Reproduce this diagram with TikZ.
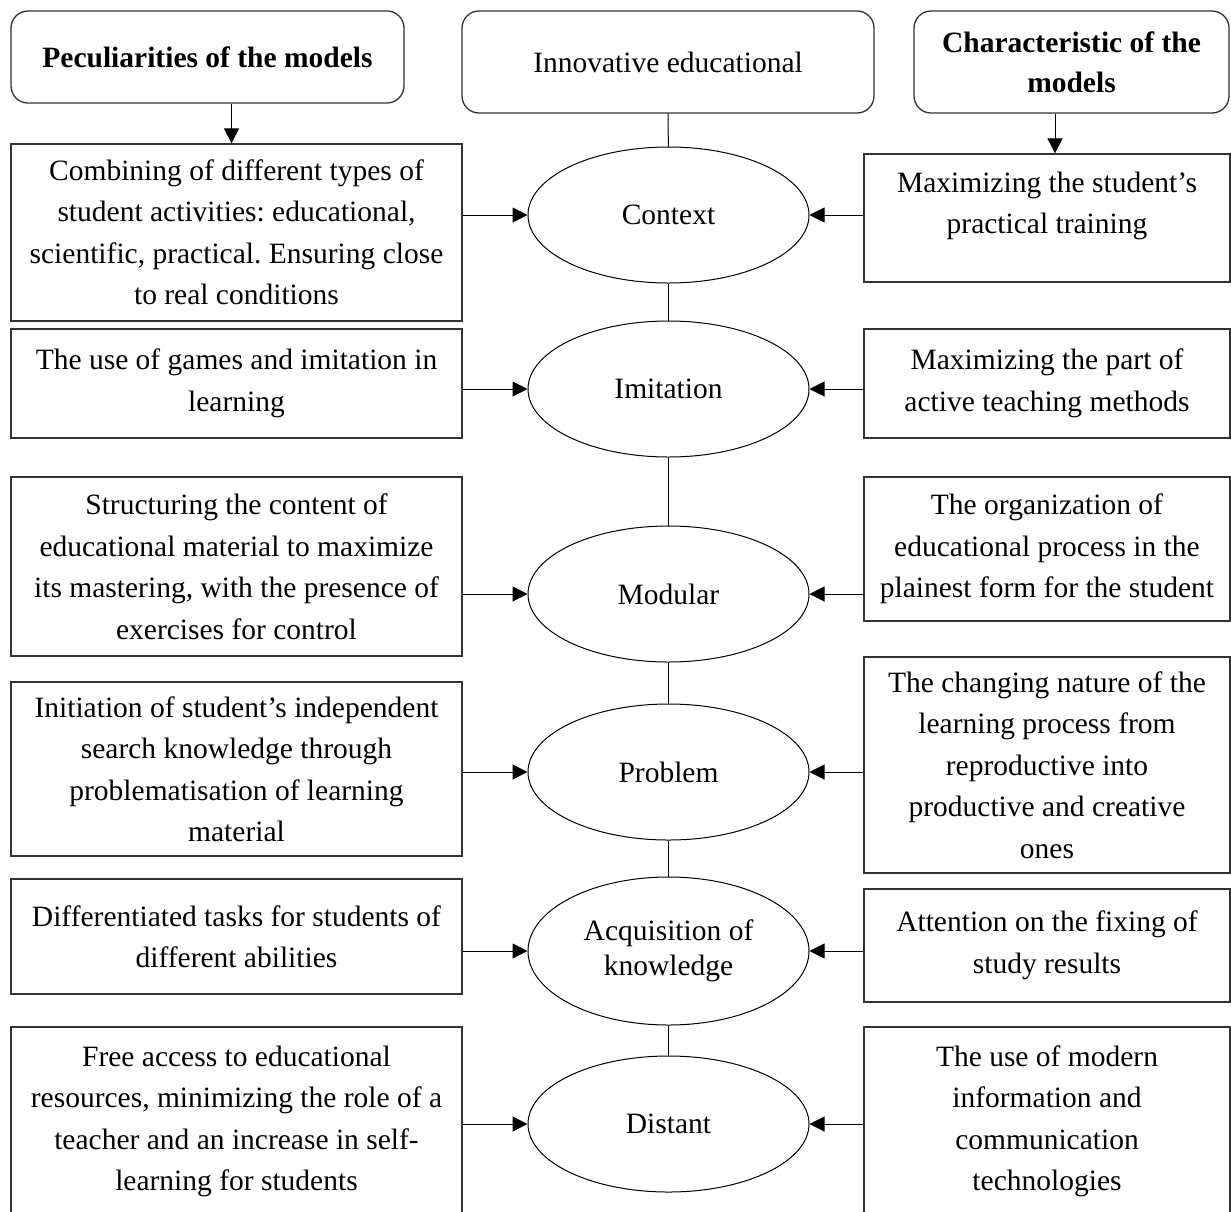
\documentclass[tikz,border=0pt]{standalone}
\usepackage{fontspec}
\setmainfont{Liberation Serif}
\usepackage{tikz}
\usetikzlibrary{arrows.meta, positioning, calc, shapes}
\definecolor{boxgray}{RGB}{51, 51, 51}
\frenchspacing

\tikzset{
  txt/.style={font=\fontsize{29.5}{41.5}\selectfont, align=center, inner sep=0pt},
  roundbox/.style={txt, draw=boxgray, line width=1.3pt, rounded corners=17pt},
  boldtxt/.style={font=\fontsize{29.5}{40}\selectfont\bfseries},
  featbox/.style={txt, draw=boxgray, line width=1.3pt},
  model/.style={txt, ellipse, draw, line width=1pt, minimum width=281pt, minimum height=136pt},
  link/.style={line width=1pt},
  arr/.style={link, -{Triangle[length=15pt, width=15pt]}}
}

\begin{document}
\begin{tikzpicture}[x=1pt, y=-1pt]
        \useasboundingbox (0,0) rectangle (1231,1211);

        % Headings
        \node[roundbox, boldtxt, minimum width=393pt, minimum height=92pt] (pec) at (207.5,57) {Peculiarities of the models};
        \node[roundbox, minimum width=412pt, minimum height=102pt] (inno) at (668,62) {Innovative educational};
        \node[roundbox, boldtxt, minimum width=315pt, minimum height=102pt] (char) at (1071.5,62) {Characteristic of the\\models};

        % Models
        \node[model] (ctx) at (668.5,215) {Context};
        \node[model] (imi) at (668.5,389) {Imitation};
        \node[model] (mod) at (668.5,594) {Modular};
        \node[model] (prob) at (668.5,772) {Problem};
        \node[model, minimum height=148pt, font=\fontsize{29.5}{35}\selectfont] (acq) at (668.5,951) {Acquisition of\\knowledge};
        \node[model] (dist) at (668.5,1124) {Distant};

        % Peculiarities (left)
        \node[featbox, minimum width=451pt, minimum height=177pt] (peL1) at (236.5,232.5) {Combining of different types of\\student activities: educational,\\scientific, practical. Ensuring close\\to real conditions};
        \node[featbox, minimum width=451pt, minimum height=109pt] (peL2) at (236.5,383.5) {The use of games and imitation in\\learning};
        \node[featbox, minimum width=451pt, minimum height=179pt] (peL3) at (236.5,566.5) {Structuring the content of\\educational material to maximize\\its mastering, with the presence of\\exercises for control};
        \node[featbox, minimum width=451pt, minimum height=174pt] (peL4) at (236.5,769) {Initiation of student’s independent\\search knowledge through\\problematisation of learning\\material};
        \node[featbox, minimum width=451pt, minimum height=115pt] (peL5) at (236.5,936.5) {Differentiated tasks for students of\\different abilities};
        \node[featbox, minimum width=451pt, minimum height=189pt] (peL6) at (236.5,1121.5) {Free access to educational\\resources, minimizing the role of a\\teacher and an increase in self-\\learning for students};

        % Characteristics (right)
        \node[featbox, minimum width=366pt, minimum height=128pt] (chR1) at (1047,218) {Maximizing the student’s\\practical training\\[-11pt]\mbox{}};
        \node[featbox, minimum width=366pt, minimum height=109pt] (chR2) at (1047,383.5) {Maximizing the part of\\active teaching methods};
        \node[featbox, minimum width=366pt, minimum height=144pt] (chR3) at (1047,549) {The organization of\\educational process in the\\plainest form for the student};
        \node[featbox, minimum width=366pt, minimum height=216pt] (chR4) at (1047,765) {The changing nature of the\\learning process from\\reproductive into\\productive and creative\\ones};
        \node[featbox, minimum width=366pt, minimum height=113pt] (chR5) at (1047,945.5) {Attention on the fixing of\\study results};
        \node[featbox, minimum width=366pt, minimum height=189pt] (chR6) at (1047,1121.5) {The use of modern\\information and\\communication\\technologies};

        % Spine
        \draw[link] (inno) -- (ctx);
        \foreach \a/\b in {ctx/imi, imi/mod, mod/prob, prob/acq, acq/dist}
            \draw[link] (\a) -- (\b);

        % Heading arrows
        \draw[arr] ($(pec.south -| peL1.north)+(-5,0)$) -- ($(peL1.north)+(-5,0)$);
        \draw[arr] ($(char.south -| chR1.north)+(8,0)$) -- ($(chR1.north)+(8,0)$);

        % Side arrows
        \foreach \b/\m in {peL1/ctx, peL2/imi, peL3/mod, peL4/prob, peL5/acq, peL6/dist}
            \draw[arr] (\b.east |- \m.west) -- (\m.west);
        \foreach \b/\m in {chR1/ctx, chR2/imi, chR3/mod, chR4/prob, chR5/acq, chR6/dist}
            \draw[arr] (\b.west |- \m.east) -- (\m.east);
    \end{tikzpicture}
\end{document}
